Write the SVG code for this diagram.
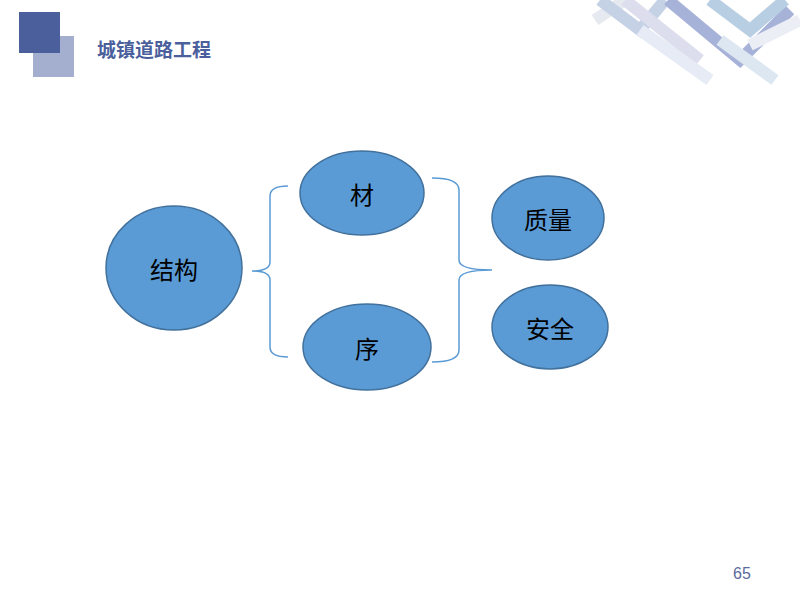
<svg xmlns="http://www.w3.org/2000/svg" width="800" height="600" viewBox="0 0 800 600">
<style>
.n{fill:#5b9bd5;stroke:#41719c;stroke-width:1.5}
.t{font-family:"Noto Sans CJK SC",sans-serif;font-size:24px;fill:#000;text-anchor:middle;dominant-baseline:central}
.b{fill:none;stroke:#5b9bd5;stroke-width:1.5}
.s{stroke-width:12;fill:none}
</style>
<rect width="800" height="600" fill="#fff"/>
<g id="deco" opacity="0.6">
<path class="s" d="M595 20 L625 0" stroke="#d8dbe8"/>
<path class="s" d="M600 0 L640 30 L665 0" stroke="#9fb4d4"/>
<path class="s" d="M625 0 L700 60" stroke="#c7c9e2"/>
<path class="s" d="M668 0 L740 60 L790 10" stroke="#6c7fbd"/>
<path class="s" d="M710 0 L750 30 L785 0" stroke="#8aaed0"/>
<path class="s" d="M640 30 L710 80" stroke="#d6dff0"/>
<path class="s" d="M720 40 L775 80" stroke="#c8d8ea"/>
<path class="s" d="M750 45 L800 20" stroke="#e0e4f0"/>
</g>
<g id="logo">
<rect x="33" y="36" width="41" height="41" fill="#a4afcf"/>
<rect x="19" y="12" width="41" height="41" fill="#4a5f9c"/>
<text x="97" y="57" font-family="Noto Sans CJK SC,sans-serif" font-size="19" font-weight="bold" fill="#4a5f9c">城镇道路工程</text>
</g>
<g id="connectors">
<path class="b" d="M288 186 Q270 186 270 196 L270 262 Q270 271 252 271 Q270 271 270 280 L270 347 Q270 357 288 357"/>
<path class="b" d="M432 178 Q459 178 459 190 L459 260 Q459 270 492 270 Q459 270 459 280 L459 350 Q459 362 432 362"/>
</g>
<g id="n1"><ellipse class="n" cx="174" cy="268" rx="68" ry="62"/><text class="t" x="174" y="268">结构</text></g>
<g id="n2"><ellipse class="n" cx="362" cy="193" rx="62" ry="42"/><text class="t" x="362" y="193">材</text></g>
<g id="n3"><ellipse class="n" cx="367" cy="347" rx="64" ry="43"/><text class="t" x="367" y="347">序</text></g>
<g id="n4"><ellipse class="n" cx="548" cy="218" rx="56" ry="42"/><text class="t" x="548" y="218">质量</text></g>
<g id="n5"><ellipse class="n" cx="550" cy="327" rx="58" ry="42"/><text class="t" x="550" y="327">安全</text></g>
<text x="742" y="579" font-family="Liberation Sans,sans-serif" font-size="16" fill="#5a6b9a" text-anchor="middle">65</text>
</svg>
